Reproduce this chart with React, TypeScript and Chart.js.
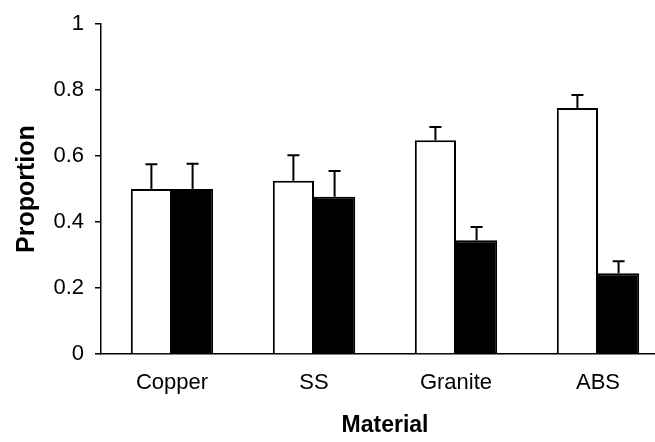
import React, { useEffect, useRef } from "react";
import { Chart, registerables } from "chart.js";

Chart.register(...registerables);

const categories = ["Copper", "SS", "Granite", "ABS"];
const whiteValues = [0.5, 0.525, 0.648, 0.746];
const whiteErrors = [0.075, 0.078, 0.04, 0.039];
const blackValues = [0.5, 0.477, 0.345, 0.245];
const blackErrors = [0.077, 0.078, 0.04, 0.036];
const yTicks = [0, 0.2, 0.4, 0.6, 0.8, 1];

const errorBarPlugin = {
  id: "errorBars",
  afterDatasetsDraw(chart: any) {
    const ctx = chart.ctx;
    const yScale = chart.scales.y;
    chart.data.datasets.forEach((ds: any, di: number) => {
      const meta = chart.getDatasetMeta(di);
      const errs: number[] = ds.errors || [];
      meta.data.forEach((bar: any, i: number) => {
        const v = ds.data[i];
        const e = errs[i];
        if (e == null) return;
        const x = bar.x;
        const yTop = yScale.getPixelForValue(v + e);
        const yBase = bar.y;
        ctx.save();
        ctx.strokeStyle = "#000";
        ctx.lineWidth = 2;
        ctx.beginPath();
        ctx.moveTo(x, yBase);
        ctx.lineTo(x, yTop);
        ctx.moveTo(x - 6, yTop);
        ctx.lineTo(x + 6, yTop);
        ctx.stroke();
        ctx.restore();
      });
    });
  },
};

export default function App() {
  const canvasRef = useRef<HTMLCanvasElement | null>(null);

  useEffect(() => {
    if (!canvasRef.current) return;
    const chart = new Chart(canvasRef.current, {
      type: "bar",
      data: {
        labels: categories,
        datasets: [
          {
            label: "White",
            data: whiteValues,
            errors: whiteErrors,
            backgroundColor: "#ffffff",
            borderColor: "#000000",
            borderWidth: 2,
            categoryPercentage: 0.58,
            barPercentage: 1,
          } as any,
          {
            label: "Black",
            data: blackValues,
            errors: blackErrors,
            backgroundColor: "#000000",
            borderColor: "#000000",
            borderWidth: 2,
            categoryPercentage: 0.58,
            barPercentage: 1,
          } as any,
        ],
      },
      options: {
        animation: false,
        responsive: true,
        maintainAspectRatio: false,
        layout: { padding: { top: 19, right: 11, left: 0, bottom: 0 } },
        plugins: {
          legend: { display: false },
          tooltip: { enabled: false },
        },
        scales: {
          x: {
            afterFit: (s: any) => {
              s.height = 88;
            },
            grid: { display: false, drawTicks: false },
            border: { display: true, color: "#000", width: 1.5 },
            ticks: {
              color: "#000",
              padding: 16,
              font: { family: "Liberation Sans, Arial", size: 22 },
            },
            title: {
              display: true,
              text: "Material",
              color: "#000",
              padding: { top: 0, bottom: 3 },
              font: { family: "Liberation Sans, Arial", size: 23, weight: "bold" },
            },
          },
          y: {
            min: 0,
            max: 1,
            afterFit: (s: any) => {
              s.width = 101;
            },
            afterBuildTicks: (s: any) => {
              s.ticks = yTicks.map((v) => ({ value: v }));
            },
            grid: {
              display: true,
              drawOnChartArea: false,
              drawTicks: true,
              tickLength: 6,
              color: "#000",
              lineWidth: 1.5,
            },
            border: { display: true, color: "#000", width: 1.5 },
            ticks: {
              color: "#000",
              padding: 11,
              font: { family: "Liberation Sans, Arial", size: 22 },
              callback: (v: any) => String(Number(v)),
            },
            title: {
              display: true,
              text: "Proportion",
              color: "#000",
              padding: { top: 12, bottom: 0 },
              font: { family: "Liberation Sans, Arial", size: 25, weight: "bold" },
            },
          },
        },
      },
      plugins: [errorBarPlugin],
    });
    return () => chart.destroy();
  }, []);

  return (
    <div
      style={{
        position: "fixed",
        left: 0,
        top: 0,
        width: 655,
        height: 442,
        overflow: "hidden",
        background: "#fff",
      }}
    >
      <div style={{ position: "relative", width: 680, height: 442 }}>
        <canvas ref={canvasRef} />
      </div>
    </div>
  );
}
